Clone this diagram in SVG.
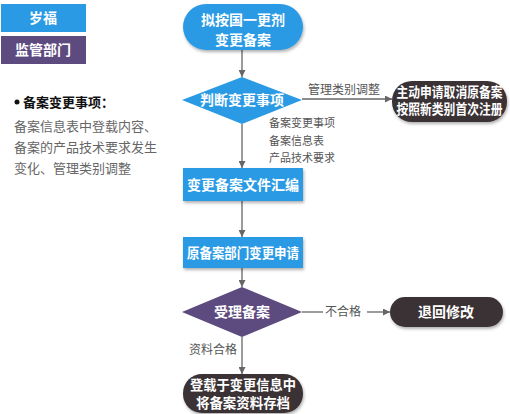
<svg xmlns="http://www.w3.org/2000/svg" width="510" height="414" viewBox="0 0 510 414">
<defs>
<style>
.t{font-family:"Noto Sans CJK SC","Liberation Sans",sans-serif;}
.w{fill:#fff;font-weight:bold;font-size:14px;text-anchor:middle;}
.g{fill:#555;font-size:12px;}
.s{fill:#555;font-size:11px;}
.blue{fill:#2b9ae4;}
.purple{fill:#5d4b7f;}
.dark{fill:#3b3335;}
.ln{stroke:#666;stroke-width:1.3;fill:none;}
</style>
<marker id="ah" viewBox="0 0 10 10" refX="10" refY="5" markerWidth="7" markerHeight="7" orient="auto" markerUnits="userSpaceOnUse">
<path d="M0,0 L10,5 L0,10 z" fill="#666"/>
</marker>
<filter id="sh" x="-10%" y="-10%" width="120%" height="130%">
<feDropShadow dx="1" dy="2" stdDeviation="1.5" flood-color="#000" flood-opacity="0.3"/>
</filter>
</defs>
<rect width="510" height="414" fill="#fff"/>

<g id="legend-blue"><rect x="1" y="4" width="85" height="28" class="blue"/><text x="43" y="23" class="t w" font-size="15">岁福</text></g>
<g id="legend-purple"><rect x="1" y="36" width="85" height="28" class="purple"/><text x="43" y="55" class="t w" font-size="15">监管部门</text></g>

<g id="note" class="t">
<circle cx="17" cy="102" r="2.5" fill="#111"/>
<text x="23" y="107" font-size="13" font-weight="bold" fill="#111">备案变更事项：</text>
<text x="14" y="131" font-size="13" fill="#666">备案信息表中登载内容、</text>
<text x="14" y="152" font-size="13" fill="#666">备案的产品技术要求发生</text>
<text x="14" y="173" font-size="13" fill="#666">变化、管理类别调整</text>
</g>

<g id="connectors">
<line x1="242" y1="50" x2="242" y2="77" class="ln" marker-end="url(#ah)"/>
<line x1="302" y1="99" x2="392" y2="99" class="ln" marker-end="url(#ah)"/>
<line x1="242" y1="124" x2="242" y2="168" class="ln" marker-end="url(#ah)"/>
<line x1="242" y1="201" x2="242" y2="237" class="ln" marker-end="url(#ah)"/>
<line x1="242" y1="268" x2="242" y2="287" class="ln" marker-end="url(#ah)"/>
<line x1="302" y1="312" x2="323" y2="312" class="ln"/>
<line x1="367" y1="312" x2="390" y2="312" class="ln" marker-end="url(#ah)"/>
<line x1="242" y1="337" x2="242" y2="374" class="ln" marker-end="url(#ah)"/>
<text x="308" y="94" class="t g">管理类别调整</text>
<text x="269" y="127" class="t s">备案变更事项</text>
<text x="269" y="145" class="t s">备案信息表</text>
<text x="269" y="162" class="t s">产品技术要求</text>
<text x="325" y="316" class="t g">不合格</text>
<text x="189" y="354" class="t g">资料合格</text>
</g>

<g id="start"><rect x="183" y="4" width="120" height="46" rx="23" class="blue" filter="url(#sh)"/>
<text x="243" y="24.5" class="t w" font-size="13.5">拟按国一更剂</text><text x="243" y="44.5" class="t w" font-size="13.5">变更备案</text></g>

<g id="judge"><polygon points="242,77 302,100 242,124 182,100" class="blue"/>
<text x="242" y="105" class="t w" font-size="13.5">判断变更事项</text></g>

<g id="reregister"><rect x="392" y="81" width="115" height="41" rx="20" class="dark" filter="url(#sh)"/>
<text x="449.5" y="97" class="t w" font-size="11.5" textLength="106" lengthAdjust="spacingAndGlyphs">主动申请取消原备案</text><text x="449.5" y="114" class="t w" font-size="11.5" textLength="106" lengthAdjust="spacingAndGlyphs">按照新类别首次注册</text></g>

<g id="compile"><rect x="183" y="168" width="120" height="33" class="blue" filter="url(#sh)"/>
<text x="243" y="189.5" class="t w" font-size="14" textLength="112" lengthAdjust="spacingAndGlyphs">变更备案文件汇编</text></g>

<g id="apply"><rect x="183" y="237" width="120" height="31" class="blue" filter="url(#sh)"/>
<text x="243" y="257.5" class="t w" font-size="12.5" textLength="112" lengthAdjust="spacingAndGlyphs">原备案部门变更申请</text></g>

<g id="accept"><polygon points="242,287 302,312 242,337 182,312" class="purple"/>
<text x="242" y="317" class="t w">受理备案</text></g>

<g id="return"><rect x="390" y="297" width="113" height="30" rx="15" class="dark" filter="url(#sh)"/>
<text x="446" y="317" class="t w">退回修改</text></g>

<g id="archive"><rect x="183" y="374" width="120" height="39" rx="19" class="dark" filter="url(#sh)"/>
<text x="243" y="389.5" class="t w" font-size="12" textLength="106" lengthAdjust="spacingAndGlyphs">登载于变更信息中</text><text x="243" y="407.5" class="t w" font-size="12" textLength="94" lengthAdjust="spacingAndGlyphs">将备案资料存档</text></g>
</svg>
